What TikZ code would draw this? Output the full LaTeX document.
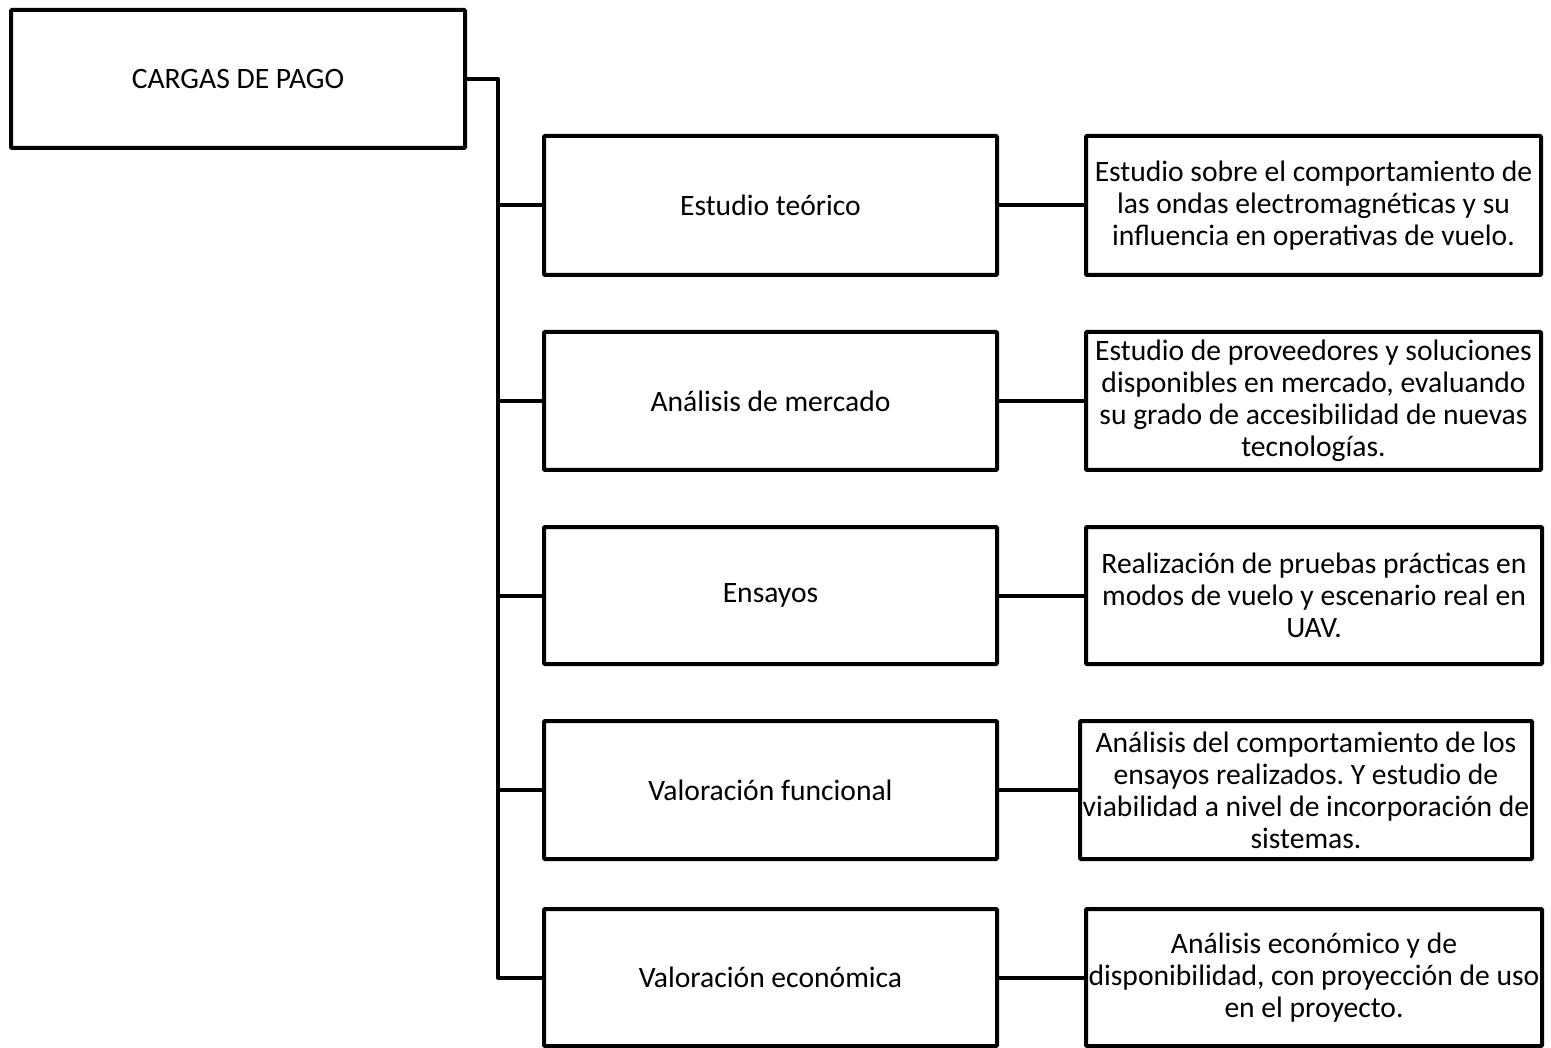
\documentclass[tikz,border=0pt]{standalone}
\usepackage{fontspec}
\setmainfont{Carlito}
\frenchspacing
\begin{document}
\begin{tikzpicture}[x=1pt,y=-1pt,
  box/.style={draw=black,line width=4pt,rounded corners=1pt,inner sep=0pt,
    align=center,font=\fontsize{29.6}{32}\selectfont},
  link/.style={draw=black,line width=4pt,line join=round}]
\useasboundingbox (0,0) rectangle (1551,1048);
% root
\node[box,minimum width=454pt,minimum height=138pt] (root) at (238,79) {CARGAS DE PAGO};
% work packages
\node[box,minimum width=453pt,minimum height=139pt] (m1) at (770.5,205.5) {Estudio teórico};
\node[box,minimum width=453pt,minimum height=138pt] (m2) at (770.5,401) {Análisis de mercado};
\node[box,minimum width=453pt,minimum height=137pt] (m3) at (770.5,595.5) {Ensayos};
\node[box,minimum width=453pt,minimum height=138pt] (m4) at (770.5,790) {Valoración funcional};
\node[box,minimum width=453pt,minimum height=137pt] (m5) at (770.5,977.5) {Valoración económica};
% descriptions
\node[box,minimum width=455pt,minimum height=139pt] (d1) at (1313.5,205.5)
  {Estudio sobre el comportamiento de\\las ondas electromagnéticas y su\\influencia en operativas de vuelo.};
\node[box,minimum width=455pt,minimum height=138pt] (d2) at (1313.5,401)
  {Estudio de proveedores y soluciones\\disponibles en mercado, evaluando\\su grado de accesibilidad de nuevas\\tecnologías.};
\node[box,minimum width=456pt,minimum height=137pt] (d3) at (1314,595.5)
  {Realización de pruebas prácticas en\\modos de vuelo y escenario real en\\UAV.};
\node[box,minimum width=452pt,minimum height=138pt] (d4) at (1306,790)
  {Análisis del comportamiento de los\\ensayos realizados. Y estudio de\\viabilidad a nivel de incorporación de\\sistemas.};
\node[box,minimum width=456pt,minimum height=137pt] (d5) at (1314,977.5)
  {Análisis económico y de\\disponibilidad, con proyección de uso\\en el proyecto.};
% trunk
\coordinate (trunk) at (498,0);
\draw[link] (root.east) -- (root.east -| trunk) -- (m5.west -| trunk) -- (m5.west);
\foreach \i in {1,2,3,4}{
  \draw[link] (m\i.west -| trunk) -- (m\i.west);
}
\foreach \i in {1,2,3,4,5}{
  \draw[link] (m\i.east) -- (d\i.west);
}
\end{tikzpicture}
\end{document}
